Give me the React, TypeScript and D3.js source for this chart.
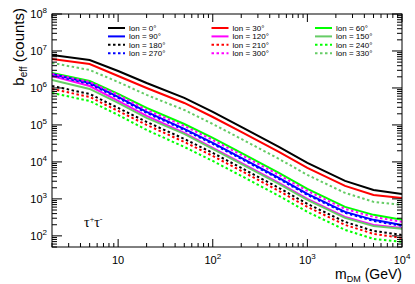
import { line, scaleLog, curveLinear } from 'd3'

// dark matter mass (GeV)
const masses = [2, 5, 10, 20, 50, 100, 200, 500, 1000, 2500, 5000, 10000]

// effective background counts per galactic longitude
const lon0 = [7.8e6, 5.71e6, 2.88e6, 1.36e6, 5.37e5, 2.25e5, 8.83e4, 2.54e4, 9.4e3, 3.06e3, 1.75e3, 1.36e3]
const lon30 = [6.08e6, 4.45e6, 2.11e6, 1.0e6, 3.93e5, 1.64e5, 6.47e4, 1.86e4, 6.88e3, 2.25e3, 1.28e3, 1.06e3]
const lon60 = [2.54e6, 1.55e6, 6.88e5, 2.88e5, 1.06e5, 4.45e4, 1.75e4, 5.04e3, 1.86e3, 608, 370, 271]
const lon90 = [2.39e6, 1.36e6, 5.71e5, 2.25e5, 7.8e4, 3.26e4, 1.28e4, 3.7e3, 1.36e3, 445, 271, 198]
const lon120 = [2.11e6, 1.13e6, 4.45e5, 1.75e5, 6.08e4, 2.39e4, 9.4e3, 2.71e3, 1.0e3, 326, 198, 164]
const lon150 = [1.64e6, 9.4e5, 3.93e5, 1.55e5, 5.71e4, 2.25e4, 8.83e3, 2.54e3, 940, 306, 186, 155]
const lon180 = [1.13e6, 6.88e5, 2.88e5, 1.21e5, 4.19e4, 1.75e4, 6.88e3, 1.98e3, 733, 239, 136, 106]
const lon210 = [9.4e5, 5.71e5, 2.39e5, 1.0e5, 3.47e4, 1.45e4, 5.71e3, 1.64e3, 608, 198, 113, 88]
const lon240 = [7.33e5, 4.45e5, 1.86e5, 7.33e4, 2.54e4, 1.06e4, 4.19e3, 1.21e3, 445, 145, 83, 69]
const lon270 = [2.25e6, 1.28e6, 5.37e5, 2.11e5, 7.33e4, 3.06e4, 1.21e4, 3.47e3, 1.28e3, 419, 254, 186]
const lon300 = [2.39e6, 1.45e6, 6.47e5, 2.54e5, 9.4e4, 3.93e4, 1.55e4, 4.45e3, 1.64e3, 537, 326, 239]
const lon330 = [4.74e6, 3.06e6, 1.45e6, 6.47e5, 2.54e5, 1.06e5, 4.19e4, 1.21e4, 4.45e3, 1.45e3, 830, 689]

const series = [
    { name: 'lon = 0°', values: lon0, color: '#000000', dotted: false },
    { name: 'lon = 30°', values: lon30, color: '#ff0000', dotted: false },
    { name: 'lon = 60°', values: lon60, color: '#00ff00', dotted: false },
    { name: 'lon = 90°', values: lon90, color: '#0000ff', dotted: false },
    { name: 'lon = 120°', values: lon120, color: '#ff00ff', dotted: false },
    { name: 'lon = 150°', values: lon150, color: '#66cc66', dotted: false },
    { name: 'lon = 180°', values: lon180, color: '#000000', dotted: true },
    { name: 'lon = 210°', values: lon210, color: '#ff0000', dotted: true },
    { name: 'lon = 240°', values: lon240, color: '#00ff00', dotted: true },
    { name: 'lon = 270°', values: lon270, color: '#0000ff', dotted: true },
    { name: 'lon = 300°', values: lon300, color: '#ff00ff', dotted: true },
    { name: 'lon = 330°', values: lon330, color: '#66cc66', dotted: true }
]

const xMajor = [10, 100, 1000, 10000]
const yMajor = [1e2, 1e3, 1e4, 1e5, 1e6, 1e7, 1e8]

const W = 415
const H = 284
const margin = { left: 52, right: 13, top: 14, bottom: 37 }
const font = 'Liberation Sans, Arial, Helvetica, sans-serif'

export default function App() {
    const x = scaleLog().domain([2, 10000]).range([margin.left, W - margin.right])
    const y = scaleLog().domain([50, 1e8]).range([H - margin.bottom, margin.top])
    const x0 = margin.left
    const x1 = W - margin.right
    const y0 = H - margin.bottom
    const y1 = margin.top

    const path = line<number>()
        .curve(curveLinear)
        .x((d, i) => x(masses[i]))
        .y(d => y(d))

    // log minor ticks
    const xMinor: number[] = []
    for (let dec = 1; dec <= 1000; dec *= 10) {
        for (let k = 2; k <= 9; k++) {
            const v = k * dec
            if (v >= 2 && v <= 10000) xMinor.push(v)
        }
    }
    const yMinor: number[] = []
    for (let dec = 10; dec <= 1e7; dec *= 10) {
        for (let k = 2; k <= 9; k++) {
            const v = k * dec
            if (v >= 50 && v <= 1e8) yMinor.push(v)
        }
    }

    const expOf = (v: number) => Math.round(Math.log10(v))

    return (
        <svg width={W} height={H} style={{ position: 'absolute', left: 0, top: 0 }} fontFamily={font}>
            <rect x={0} y={0} width={W} height={H} fill="#fff" />
            <defs>
                <clipPath id="plot">
                    <rect x={x0} y={y1} width={x1 - x0} height={y0 - y1} />
                </clipPath>
            </defs>

            <g clipPath="url(#plot)">
                {series.map(s => (
                    <path
                        key={s.name}
                        d={path(s.values) ?? ''}
                        fill="none"
                        stroke={s.color}
                        strokeWidth={2}
                        strokeDasharray={s.dotted ? '2.5,2.5' : undefined}
                    />
                ))}
            </g>

            {/* frame */}
            <rect x={x0} y={y1} width={x1 - x0} height={y0 - y1} fill="none" stroke="#000" strokeWidth={1} />

            {/* x ticks bottom + top */}
            {xMinor.map(v => (
                <g key={'xm' + v}>
                    <line x1={x(v)} x2={x(v)} y1={y0} y2={y0 - 4} stroke="#000" />
                    <line x1={x(v)} x2={x(v)} y1={y1} y2={y1 + 4} stroke="#000" />
                </g>
            ))}
            {xMajor.map(v => (
                <g key={'xM' + v}>
                    <line x1={x(v)} x2={x(v)} y1={y0} y2={y0 - 8} stroke="#000" />
                    <line x1={x(v)} x2={x(v)} y1={y1} y2={y1 + 8} stroke="#000" />
                    <text x={x(v)} y={y0 + 17} textAnchor="middle" fontSize={11}>
                        {v === 10 ? '10' : (
                            <>
                                <tspan>10</tspan>
                                <tspan dy={-5} fontSize={8}>{expOf(v)}</tspan>
                            </>
                        )}
                    </text>
                </g>
            ))}

            {/* y ticks left + right */}
            {yMinor.map(v => (
                <g key={'ym' + v}>
                    <line x1={x0} x2={x0 + 5} y1={y(v)} y2={y(v)} stroke="#000" />
                    <line x1={x1} x2={x1 - 5} y1={y(v)} y2={y(v)} stroke="#000" />
                </g>
            ))}
            {yMajor.map(v => (
                <g key={'yM' + v}>
                    <line x1={x0} x2={x0 + 10} y1={y(v)} y2={y(v)} stroke="#000" />
                    <line x1={x1} x2={x1 - 10} y1={y(v)} y2={y(v)} stroke="#000" />
                    <text x={47} y={y(v) + 4} textAnchor="end" fontSize={11}>
                        <tspan>10</tspan>
                        <tspan dy={-5} fontSize={8}>{expOf(v)}</tspan>
                    </text>
                </g>
            ))}

            {/* axis titles */}
            <text x={402} y={278.5} textAnchor="end" fontSize={14}>
                <tspan>m</tspan>
                <tspan dy={3} fontSize={9}>DM</tspan>
                <tspan dy={-3}> (GeV)</tspan>
            </text>
            <text transform="translate(24,8) rotate(-90)" textAnchor="end" fontSize={15}>
                <tspan>b</tspan>
                <tspan dy={3} fontSize={10}>eff</tspan>
                <tspan dy={-3}> (counts)</tspan>
            </text>

            {/* channel label */}
            <text x={84} y={227} fontSize={14} fontFamily="Liberation Serif, DejaVu Serif, serif">
                <tspan>τ</tspan>
                <tspan dy={-5} fontSize={8}>+</tspan>
                <tspan dy={5}>τ</tspan>
                <tspan dy={-5} fontSize={8}>-</tspan>
            </text>

            {/* legend */}
            {series.map((s, i) => {
                const col = i % 3
                const row = Math.floor(i / 3)
                const lx = 108 + col * 103.5
                const ly = 28 + row * 8.4
                return (
                    <g key={'lg' + s.name}>
                        <line
                            x1={lx}
                            x2={lx + 17}
                            y1={ly}
                            y2={ly}
                            stroke={s.color}
                            strokeWidth={2}
                            strokeDasharray={s.dotted ? '2.5,2.5' : undefined}
                        />
                        <text x={lx + 21} y={ly + 3} fontSize={8}>{s.name}</text>
                    </g>
                )
            })}
        </svg>
    )
}
